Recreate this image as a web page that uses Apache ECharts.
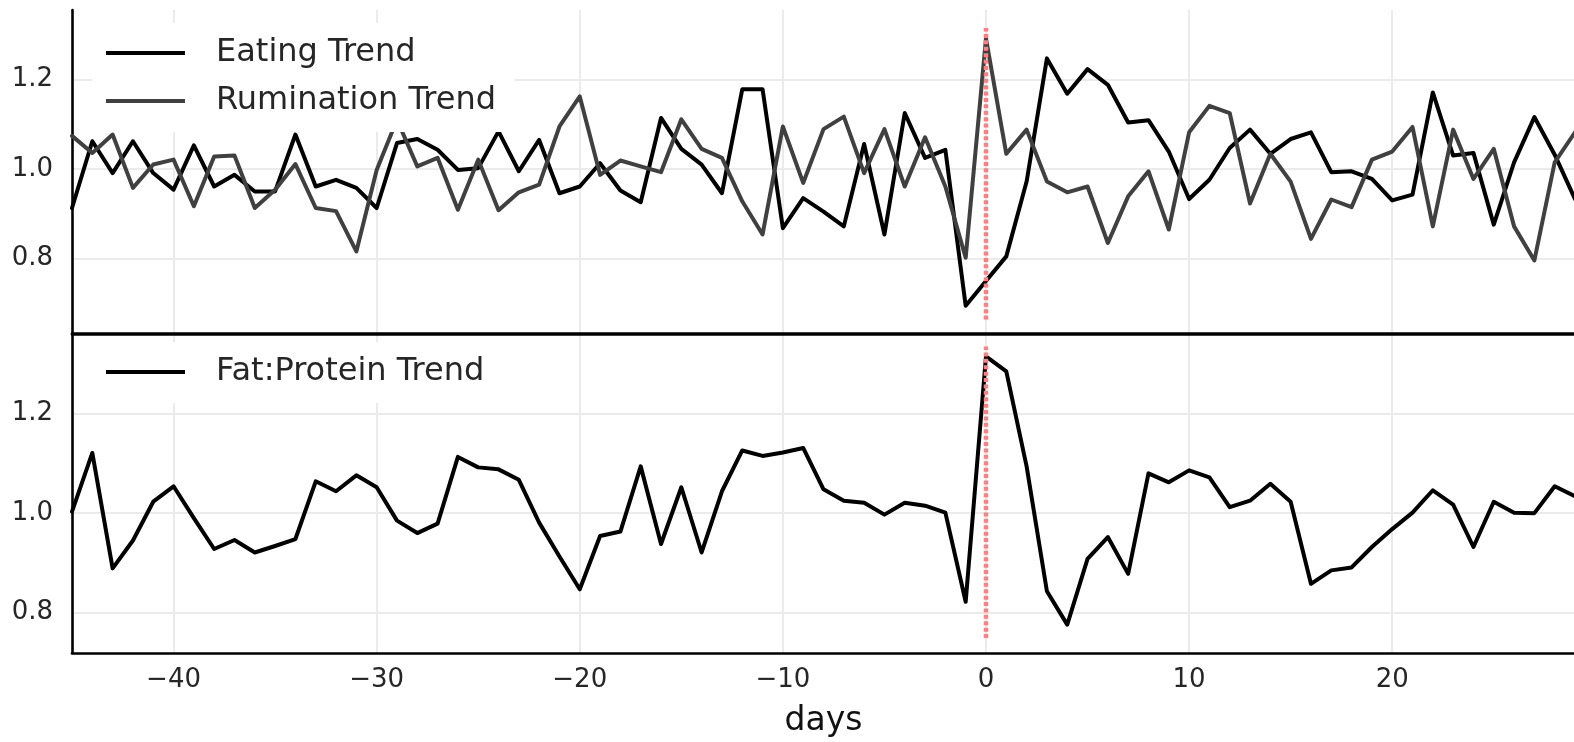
<!DOCTYPE html>
<html>
<head>
<meta charset="utf-8">
<title>Trends around day 0</title>
<script src="https://cdn.jsdelivr.net/npm/echarts@6/dist/echarts.min.js"></script>
<style>
  html, body { margin: 0; padding: 0; background: #fff; }
  #main { width: 1574px; height: 742px; }
</style>
</head>
<body>
<div id="main"></div>
<script>
// days relative to the event
var days = [-45, -44, -43, -42, -41, -40, -39, -38, -37, -36, -35, -34, -33, -32, -31,
  -30, -29, -28, -27, -26, -25, -24, -23, -22, -21, -20, -19, -18, -17, -16,
  -15, -14, -13, -12, -11, -10, -9, -8, -7, -6, -5, -4, -3, -2, -1,
  0, 1, 2, 3, 4, 5, 6, 7, 8, 9, 10, 11, 12, 13, 14,
  15, 16, 17, 18, 19, 20, 21, 22, 23, 24, 25, 26, 27, 28, 29];

var eating = [0.913, 1.062, 0.991, 1.062, 0.991, 0.954, 1.053, 0.961, 0.987, 0.950, 0.950, 1.077, 0.961, 0.976, 0.958,
  0.913, 1.058, 1.067, 1.043, 0.998, 1.002, 1.084, 0.995, 1.065, 0.946, 0.961, 1.013, 0.952, 0.926, 1.114,
  1.045, 1.010, 0.946, 1.178, 1.178, 0.868, 0.935, 0.905, 0.872, 1.056, 0.854, 1.125, 1.025, 1.043, 0.695,
  0.750, 0.805, 0.972, 1.247, 1.168, 1.223, 1.188, 1.104, 1.109, 1.039, 0.933, 0.976, 1.047, 1.088, 1.034,
  1.067, 1.082, 0.993, 0.995, 0.978, 0.930, 0.943, 1.171, 1.030, 1.036, 0.876, 1.015, 1.116, 1.032, 0.933];

var rumination = [1.074, 1.036, 1.077, 0.958, 1.010, 1.021, 0.917, 1.028, 1.030, 0.913, 0.954, 1.011, 0.913, 0.906, 0.816,
  0.998, 1.110, 1.006, 1.025, 0.909, 1.021, 0.908, 0.948, 0.965, 1.095, 1.162, 0.987, 1.019, 1.006, 0.993,
  1.111, 1.045, 1.025, 0.928, 0.854, 1.095, 0.969, 1.089, 1.117, 0.991, 1.089, 0.961, 1.071, 0.961, 0.802,
  1.292, 1.034, 1.088, 0.972, 0.948, 0.961, 0.835, 0.939, 0.995, 0.865, 1.082, 1.141, 1.125, 0.923, 1.034,
  0.972, 0.844, 0.932, 0.915, 1.021, 1.039, 1.094, 0.872, 1.088, 0.978, 1.045, 0.872, 0.796, 1.015, 1.082];

var fatProtein = [1.003, 1.121, 0.889, 0.945, 1.023, 1.054, 0.990, 0.928, 0.946, 0.921, 0.934, 0.948, 1.064, 1.044, 1.076,
  1.052, 0.985, 0.960, 0.979, 1.113, 1.092, 1.088, 1.067, 0.981, 0.913, 0.847, 0.954, 0.963, 1.094, 0.938,
  1.052, 0.921, 1.044, 1.126, 1.115, 1.122, 1.131, 1.048, 1.025, 1.021, 0.997, 1.021, 1.015, 1.001, 0.822,
  1.315, 1.285, 1.094, 0.843, 0.776, 0.908, 0.952, 0.878, 1.080, 1.062, 1.086, 1.072, 1.012, 1.025, 1.059,
  1.023, 0.858, 0.885, 0.891, 0.932, 0.968, 1.001, 1.046, 1.017, 0.932, 1.023, 1.001, 1.000, 1.054, 1.034];

// event marker (day 0), y span in each panel
var eventTop = [[0, 0.664], [0, 1.315]];
var eventBottom = [[0, 0.749], [0, 1.335]];

var xTicks = [-40, -30, -20, -10, 0, 10, 20];
var yTicks = [0.8, 1.0, 1.2];

function pairs(arr) {
  return days.map(function (d, i) { return [d, arr[i]]; });
}

var FONT = 'DejaVu Sans';
var spine = { show: true, onZero: false, lineStyle: { color: '#000', width: 2.6 } };
var grid = { show: true, lineStyle: { color: '#ebebeb', width: 2 } };

function xAxis(idx, showLabel) {
  return {
    type: 'value', gridIndex: idx, min: -45, max: 29,
    axisLine: spine,
    axisTick: { show: false, customValues: xTicks },
    splitLine: grid,
    axisLabel: {
      show: showLabel, customValues: xTicks, margin: 14,
      fontFamily: FONT, fontSize: 26, color: '#262626',
      formatter: function (v) { return v < 0 ? '\u2212' + Math.abs(v) : String(v); }
    },
    name: showLabel ? 'days' : '',
    nameLocation: 'middle', nameGap: 52,
    nameTextStyle: { fontFamily: FONT, fontSize: 33, color: '#111' }
  };
}

function yAxis(idx, min, max) {
  return {
    type: 'value', gridIndex: idx, min: min, max: max,
    axisLine: spine,
    axisTick: { show: false, customValues: yTicks },
    splitLine: grid,
    axisLabel: {
      customValues: yTicks, margin: 19,
      fontFamily: FONT, fontSize: 26, color: '#262626',
      formatter: function (v) { return v.toFixed(1); }
    }
  };
}

function trend(name, arr, color, xi) {
  return {
    name: name, type: 'line', xAxisIndex: xi, yAxisIndex: xi,
    data: pairs(arr), symbol: 'none', color: color,
    lineStyle: { color: color, width: 4, join: 'round', cap: 'round' },
    z: 3
  };
}

function eventLine(data, xi) {
  return {
    type: 'line', xAxisIndex: xi, yAxisIndex: xi, data: data,
    symbol: 'none', silent: true, z: 5,
    lineStyle: { color: '#ff7f7f', width: 4.5, type: [4, 2.4], cap: 'butt' }
  };
}

function legend(names, top) {
  return {
    data: names, orient: 'vertical', left: 92, top: top,
    padding: [14, 18, 15, 14], itemGap: 16,
    backgroundColor: '#fff', selectedMode: false,
    icon: 'rect', itemWidth: 79, itemHeight: 4,
    textStyle: { fontFamily: FONT, fontSize: 32, color: '#262626', padding: [0, 0, 0, 26] }
  };
}

var chart = echarts.init(document.getElementById('main'));
chart.setOption({
  animation: false,
  grid: [
    { left: 72, top: 10, width: 1503, height: 323, outerBoundsMode: 'none' },
    { left: 72, top: 334, width: 1503, height: 319, outerBoundsMode: 'none' }
  ],
  legend: [
    legend(['Eating Trend', 'Rumination Trend'], 23),
    legend(['Fat:Protein Trend'], 342)
  ],
  xAxis: [
    xAxis(0, false),
    xAxis(1, true),
    { type: 'value', gridIndex: 1, position: 'top', min: -45, max: 29,
      axisLine: spine, axisTick: { show: false }, axisLabel: { show: false }, splitLine: { show: false } }
  ],
  yAxis: [
    yAxis(0, 0.634, 1.355),
    yAxis(1, 0.719, 1.360)
  ],
  series: [
    trend('Eating Trend', eating, '#000000', 0),
    trend('Rumination Trend', rumination, '#404040', 0),
    eventLine(eventTop, 0),
    trend('Fat:Protein Trend', fatProtein, '#000000', 1),
    eventLine(eventBottom, 1)
  ]
});
</script>
</body>
</html>
